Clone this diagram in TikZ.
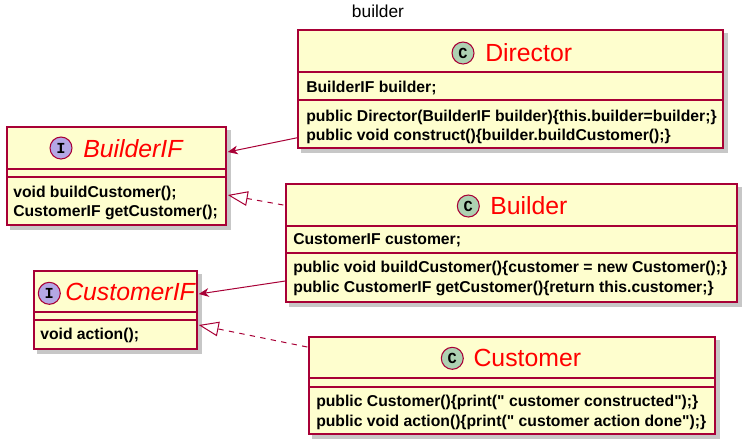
\documentclass[tikz,border=0pt]{standalone}
\usepackage{fontspec}
\setmainfont{Liberation Sans}
\newfontfamily\memfont{Liberation Sans}
\newfontfamily\iconfont{Liberation Mono}
\usetikzlibrary{arrows.meta,fit,calc,backgrounds}
\definecolor{boxfill}{HTML}{FEFECE}
\definecolor{boxline}{HTML}{A80036}
\definecolor{cfill}{HTML}{ADD1B2}
\definecolor{ifill}{HTML}{B4A7E5}
\definecolor{namered}{HTML}{FF0000}
\begin{document}
\begin{tikzpicture}[x=0.75pt,y=-0.75pt,
  box/.style={draw=boxline, fill=boxfill, line width=1.1pt, inner sep=0pt},
  sep/.style={draw=boxline, line width=0.8pt},
  member/.style={anchor=base west, inner sep=0pt, font=\memfont\fontsize{11.8}{14}\selectfont\bfseries},
  cname/.style={anchor=base west, inner sep=0pt, text=namered, font=\fontsize{18.6}{20}\selectfont},
  iname/.style={cname, font=\fontsize{18.6}{20}\selectfont\itshape},
  cicon/.style={circle, draw=boxline, fill=cfill, line width=0.8pt, minimum size=16.5pt, inner sep=0pt, font=\iconfont\fontsize{11.5}{11.5}\selectfont\bfseries},
  iicon/.style={cicon, fill=ifill},
  conn/.style={draw=boxline, line width=0.75pt},
  assoc/.style={conn, -{Stealth[length=7.5pt, width=6.5pt, inset=2.2pt, fill=boxline]}},
  realize/.style={conn, dash pattern=on 4pt off 4pt, -{Triangle[open, length=15pt, width=11pt, fill=white]}},
  shadowbox/.style={fill=black, opacity=0.22}
]
\useasboundingbox (0,0) rectangle (756,444);

\node[inner sep=0pt, anchor=base, font=\fontsize{13}{14}\selectfont] (title) at (378,17) {builder};

% boxes
\node[box, fit={(298,30)(723,148)}] (director) {};
\node[box, fit={(7,127)(226,225)}] (builderif) {};
\node[box, fit={(34,271)(197,349)}] (customerif) {};
\node[box, fit={(286,184)(737,302)}] (builder) {};
\node[box, fit={(309,337)(715,434)}] (customer) {};

\begin{scope}[on background layer]
\foreach \b in {director,builderif,customerif,builder,customer}{
  \fill[shadowbox] ($(\b.north west)+(4,4)$) rectangle ($(\b.south east)+(4,4)$);
}
\end{scope}

% Director
\draw[sep] (director.west |- 0,72) -- (director.east |- 0,72);
\draw[sep] (director.west |- 0,100) -- (director.east |- 0,100);
\node[cicon] (dicon) at (463,53) {C};
\node[cname] (dname) at (485,61) {Director};
\node[member] (d1) at (306,92.5) {BuilderIF builder;};
\node[member] (d2) at (306,121) {public Director(BuilderIF builder)\{this.builder=builder;\}};
\node[member] (d3) at (306,140.5) {public void construct()\{builder.buildCustomer();\}};

% BuilderIF
\draw[sep] (builderif.west |- 0,169) -- (builderif.east |- 0,169);
\draw[sep] (builderif.west |- 0,177) -- (builderif.east |- 0,177);
\node[iicon] (biicon) at (61,148) {I};
\node[iname] (biname) at (83,157.7) {BuilderIF};
\node[member] (b1) at (13,197.3) {void buildCustomer();};
\node[member] (b2) at (13,216.7) {CustomerIF getCustomer();};

% CustomerIF
\draw[sep] (customerif.west |- 0,312) -- (customerif.east |- 0,312);
\draw[sep] (customerif.west |- 0,320) -- (customerif.east |- 0,320);
\node[iicon] (ciicon) at (49.3,293.3) {I};
\node[iname] (ciname) at (65,300) {CustomerIF};
\node[member] (c1) at (40,339) {void action();};

% Builder
\draw[sep] (builder.west |- 0,226) -- (builder.east |- 0,226);
\draw[sep] (builder.west |- 0,253) -- (builder.east |- 0,253);
\node[cicon] (bicon) at (468.3,206) {C};
\node[cname] (bname) at (490,214.3) {Builder};
\node[member] (bl1) at (293,244.3) {CustomerIF customer;};
\node[member] (bl2) at (293,272.7) {public void buildCustomer()\{customer = new Customer();\}};
\node[member] (bl3) at (293,292.7) {public CustomerIF getCustomer()\{return this.customer;\}};

% Customer
\draw[sep] (customer.west |- 0,378) -- (customer.east |- 0,378);
\draw[sep] (customer.west |- 0,387) -- (customer.east |- 0,387);
\node[cicon] (cuicon) at (452.3,358.3) {C};
\node[cname] (cuname) at (473.3,366.7) {Customer};
\node[member] (cu1) at (316,406) {public Customer()\{print(" customer constructed");\}};
\node[member] (cu2) at (316,426.7) {public void action()\{print(" customer action done");\}};

% connectors
\draw[assoc] ($(director.south west)+(0,-11)$) -- ($(builderif.east)+(1,-24)$);
\draw[realize] ($(builder.west)+(-2,-38)$) -- ($(builderif.east)+(1,19)$);
\draw[assoc] ($(builder.west)+(0,38)$) -- ($(customerif.east)+(1,-16)$);
\draw[realize] ($(customer.west)+(-1,-38.5)$) -- ($(customerif.east)+(1,15)$);
\end{tikzpicture}
\end{document}
